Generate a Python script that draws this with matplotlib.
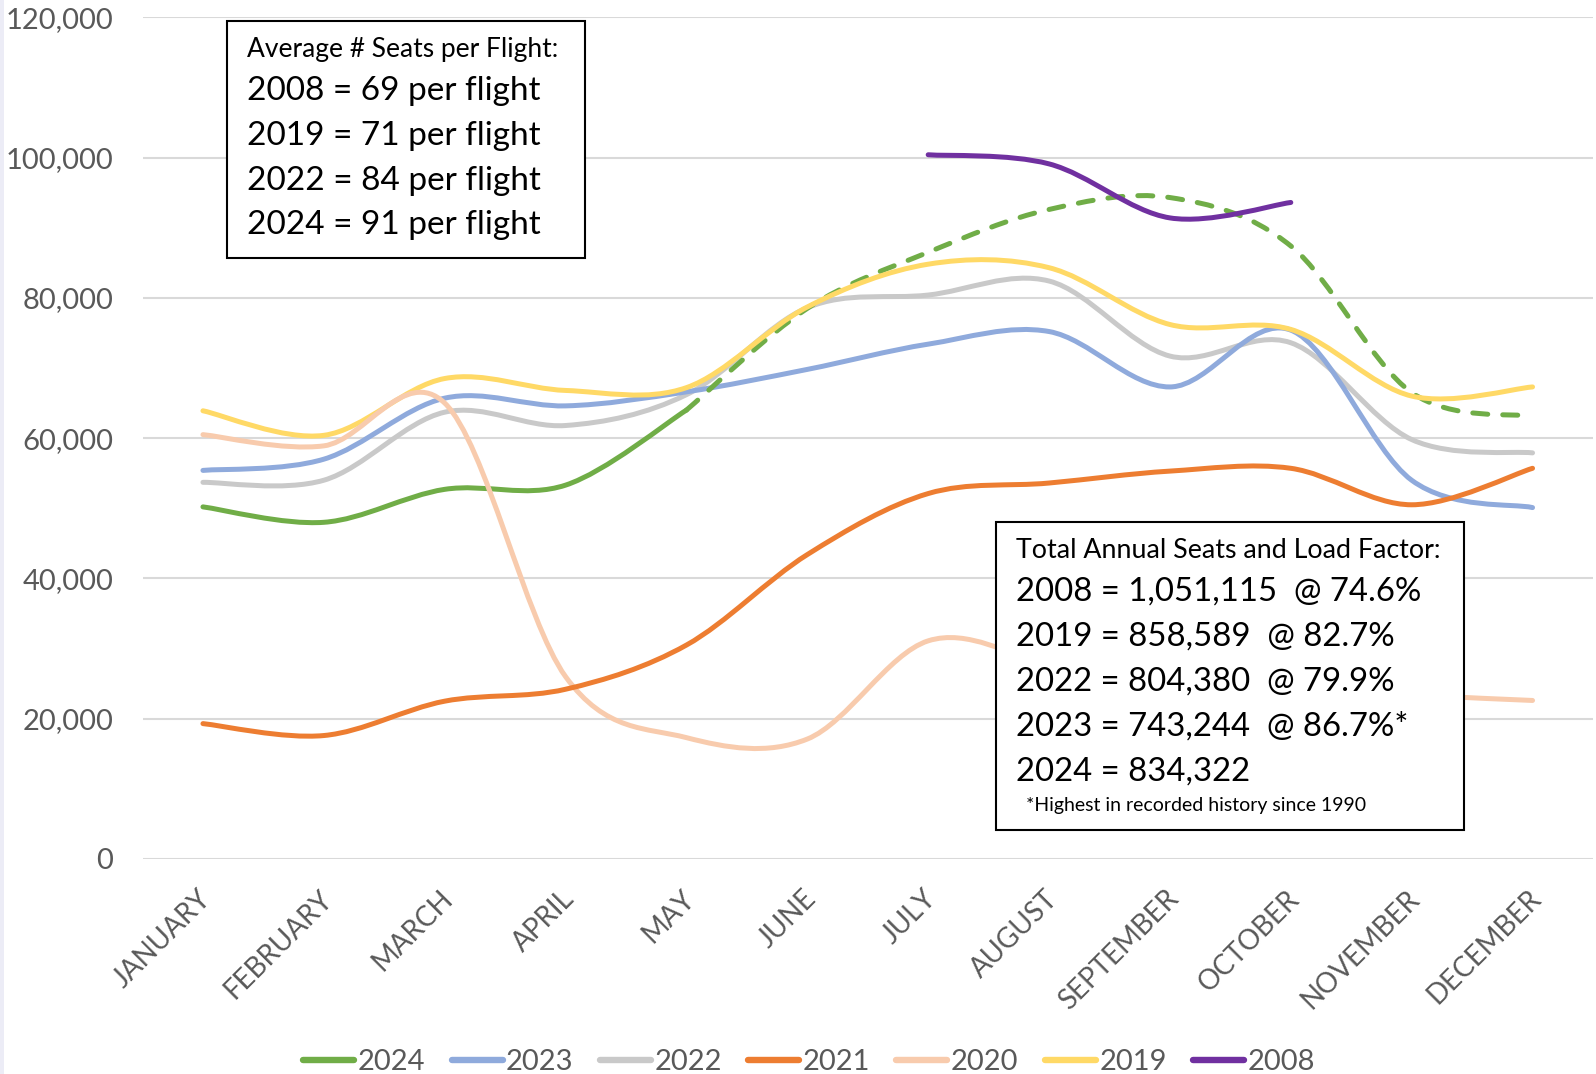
"""
Asientos mensuales por año: líneas suavizadas estilo Excel con dos cuadros de texto.
"""

import matplotlib
matplotlib.use("Agg")
import matplotlib.pyplot as plt
import matplotlib.transforms as mtrans
from matplotlib.path import Path
from matplotlib.patches import PathPatch, Rectangle
from matplotlib.lines import Line2D
from matplotlib.ticker import FuncFormatter

plt.rcParams['font.family'] = ['Lato', 'DejaVu Sans']

# datos
months = ['JANUARY', 'FEBRUARY', 'MARCH', 'APRIL', 'MAY', 'JUNE', 'JULY',
          'AUGUST', 'SEPTEMBER', 'OCTOBER', 'NOVEMBER', 'DECEMBER']
seats_2024 = [50200, 48000, 52700, 53300, 64000, 78500, 86500, 92600,
              94300, 87400, 66500, 63100]
seats_2023 = [55400, 57000, 65700, 64600, 66600, 69800, 73400, 75200,
              67300, 75400, 54000, 50100]
seats_2022 = [53700, 54000, 63700, 61800, 66200, 78600, 80400, 82400,
              71700, 73600, 59800, 57900]
seats_2021 = [19300, 17600, 22500, 24200, 30500, 43400, 52100, 53600,
              55300, 55700, 50500, 55700]
seats_2020 = [60500, 58900, 65000, 26000, 17300, 17100, 31100, 28000,
              25500, 24500, 23400, 22600]
seats_2019 = [63900, 60400, 68500, 66800, 67200, 78700, 84800, 84300,
              76200, 75500, 66000, 67300]
seats_2008 = [None, None, None, None, None, None, 100400, 99100, 91400,
              93600, None, None]

years = ['2024', '2023', '2022', '2021', '2020', '2019', '2008']
colors = ['#70AD47', '#8FAADC', '#C9C9C9', '#ED7D31', '#F8CBAD', '#FFD966',
          '#7030A0']

box1_lines = ['2008 = 69 per flight', '2019 = 71 per flight',
              '2022 = 84 per flight', '2024 = 91 per flight']
box2_lines = ['2008 = 1,051,115  @ 74.6%', '2019 = 858,589  @ 82.7%',
              '2022 = 804,380  @ 79.9%', '2023 = 743,244  @ 86.7%*',
              '2024 = 834,322']

LW = 3.6
GRIS = '#595959'


def curva_suave(xs, ys):
    """Devuelve un Path de Bezier (tipo Catmull-Rom) que pasa por los puntos."""
    pts = list(zip(xs, ys))
    n = len(pts)
    verts = [pts[0]]
    codes = [Path.MOVETO]
    for i in range(n - 1):
        p0 = pts[max(i - 1, 0)]
        p1 = pts[i]
        p2 = pts[i + 1]
        p3 = pts[min(i + 2, n - 1)]
        c1 = (p1[0] + (p2[0] - p0[0]) / 6, p1[1] + (p2[1] - p0[1]) / 6)
        c2 = (p2[0] - (p3[0] - p1[0]) / 6, p2[1] - (p3[1] - p1[1]) / 6)
        verts += [c1, c2, p2]
        codes += [Path.CURVE4] * 3
    return Path(verts, codes)


def dibuja(ax, xs, ys, color, ls='solid', z=2):
    patch = PathPatch(curva_suave(xs, ys), fill=False, edgecolor=color,
                      linewidth=LW, linestyle=ls, capstyle='round',
                      joinstyle='round', zorder=z)
    ax.add_patch(patch)


fig = plt.figure(figsize=(15.96, 10.74), dpi=100)
ax = fig.add_axes([0.0893, 0.2002, 0.9088, 0.7837])

x = list(range(len(months)))

# orden de dibujo (los últimos quedan encima)
dibuja(ax, x, seats_2022, colors[2], z=2)
dibuja(ax, x, seats_2023, colors[1], z=3)
dibuja(ax, x[:5], seats_2024[:5], colors[0], z=4)
dibuja(ax, x[4:], seats_2024[4:], colors[0], ls=(0, (3, 3)), z=4)
dibuja(ax, x, seats_2019, colors[5], z=5)
dibuja(ax, x, seats_2020, colors[4], z=6)
dibuja(ax, x, seats_2021, colors[3], z=7)
x08 = [i for i, v in zip(x, seats_2008) if v is not None]
y08 = [v for v in seats_2008 if v is not None]
dibuja(ax, x08, y08, colors[6], z=8)

ax.set_xlim(-0.5, 11.5)
ax.set_ylim(0, 120000)
ax.set_yticks(range(0, 120001, 20000))
ax.yaxis.set_major_formatter(FuncFormatter(lambda v, p: f'{int(v):,}'))
ax.set_xticks(x)
ax.set_xticklabels(months, rotation=45, ha='right', va='top',
                   rotation_mode='anchor')
ax.tick_params(axis='both', length=0, labelcolor=GRIS)
ax.tick_params(axis='y', pad=21, labelsize=21)
ax.tick_params(axis='x', pad=19, labelsize=20)
# desplazamos un poco las etiquetas del eje x hacia la izquierda
desp = mtrans.ScaledTranslation(-0.05, 0, fig.dpi_scale_trans)
for lab in ax.get_xticklabels():
    lab.set_transform(lab.get_transform() + desp)
for s in ax.spines.values():
    s.set_visible(False)
ax.grid(axis='y', color='#D9D9D9', linewidth=1.5)
ax.set_axisbelow(True)

# cuadro 1
W, H = 1596, 1074
def fx(px):
    return px / W
def fy(py):
    return 1 - py / H

fig.patches.append(Rectangle((fx(227), fy(257.5)), fx(585) - fx(227),
                             fy(21.4) - fy(257.5), transform=fig.transFigure,
                             facecolor='white', edgecolor='black',
                             linewidth=1.5, zorder=10))
fig.text(fx(247), fy(50), 'Average # Seats per Flight:', fontsize=19,
         va='center', ha='left', zorder=11)
for k, linea in enumerate(box1_lines):
    fig.text(fx(247), fy(91 + 44.8 * k), linea, fontsize=24, va='center',
             ha='left', zorder=11)

# cuadro 2
fig.patches.append(Rectangle((fx(995.5), fy(829.6)), fx(1464) - fx(995.5),
                             fy(522) - fy(829.6), transform=fig.transFigure,
                             facecolor='white', edgecolor='black',
                             linewidth=1.5, zorder=10))
fig.text(fx(1016), fy(551), 'Total Annual Seats and Load Factor:',
         fontsize=19.3, va='center', ha='left', zorder=11)
for k, linea in enumerate(box2_lines):
    fig.text(fx(1016), fy(592 + 44.9 * k), linea, fontsize=23.7, va='center',
             ha='left', zorder=11)
fig.text(fx(1026), fy(806), '*Highest in recorded history since 1990',
         fontsize=14, va='center', ha='left', zorder=11)

# leyenda
handles = [Line2D([], [], color=c, linewidth=LW + 1, solid_capstyle='round')
           for c in colors]
leg = fig.legend(handles, years, loc='center', bbox_to_anchor=(0.507, 0.011),
                 ncol=7, frameon=False, fontsize=21, handlelength=1.75,
                 handletextpad=0.12, columnspacing=0.9, labelcolor=GRIS)

# franja lateral clara
fig.patches.append(Rectangle((0, 0), fx(4), 1, transform=fig.transFigure,
                             facecolor='#ECECF6', edgecolor='none'))

fig.savefig('out.png', dpi=100)
